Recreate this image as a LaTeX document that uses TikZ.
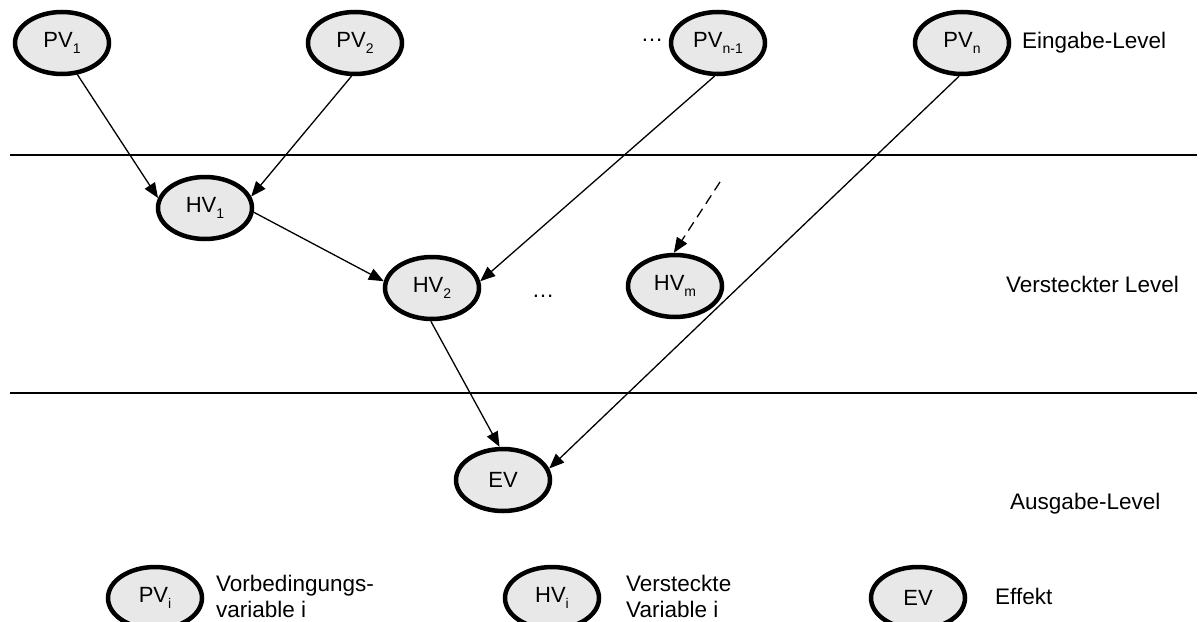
\documentclass[tikz,border=0pt]{standalone}
\usepackage{fontspec}
\setmainfont{Liberation Sans}
\usetikzlibrary{arrows.meta,shapes.geometric}
\definecolor{nodefill}{gray}{0.91}
\newcommand{\lowsub}[1]{\raisebox{-0.25em}{\fontsize{14}{14}\selectfont #1}}
\tikzset{
  var/.style={ellipse, draw=black, line width=4.5pt, fill=nodefill, minimum width=94pt, minimum height=62pt, inner sep=0pt, font=\fontsize{22}{26}\selectfont},
  lbl/.style={anchor=west, inner sep=0pt, font=\fontsize{22.5}{26}\selectfont, align=left},
  conn/.style={line width=1.3pt, -{Triangle[length=15pt,width=12pt]}},
  levelline/.style={line width=1.3pt}
}
\begin{document}
\begin{tikzpicture}[x=1pt,y=-1pt]
\useasboundingbox (0,0) rectangle (1201,621);
% level lines
\coordinate (l1a) at (10,155); \coordinate (l1b) at (1197,155);
\coordinate (l2a) at (10,393); \coordinate (l2b) at (1197,393);
\draw[levelline] (l1a) -- (l1b);
\draw[levelline] (l2a) -- (l2b);
% input level
\node[var] (pv1) at (62,43) {PV\lowsub{1}};
\node[var] (pv2) at (355,43) {PV\lowsub{2}};
\node[lbl, anchor=center] (dots1) at (652,40) {…};
\node[var] (pvn1) at (718,43) {PV\lowsub{n-1}};
\node[var] (pvn) at (962,43) {PV\lowsub{n}};
\node[lbl] (inlvl) at (1022,43) {Eingabe-Level};
% hidden level
\node[var] (hv1) at (205,208) {HV\lowsub{1}};
\node[var] (hv2) at (432,288) {HV\lowsub{2}};
\node[lbl, anchor=center] (dots2) at (543,296) {…};
\node[var] (hvm) at (675,286) {HV\lowsub{m}};
\node[lbl] (hidlvl) at (1006,284) {Versteckter Level};
% output level
\node[var] (ev) at (503,480) {EV};
\node[lbl] (outlvl) at (1010,504) {Ausgabe-Level};
% legend
\node[var] (lpv) at (155,598) {PV\lowsub{i}};
\node[lbl] (lpvt) at (216,596) {Vorbedingungs-\\variable i};
\node[var] (lhv) at (552,598) {HV\lowsub{i}};
\node[lbl] (lhvt) at (626,596) {Versteckte\\Variable i};
\node[var] (lev) at (918,598) {EV};
\node[lbl] (levt) at (995,596) {Effekt};
% connectors
\draw[conn] (pv1.296) -- (hv1.168);
\draw[conn] (pv2.264) -- (hv1.14);
\draw[conn] (hv1.355) -- (hv2.172);
\draw[conn] (pvn1.264) -- (hv2.8);
\draw[conn] (hv2.268) -- (ev.96);
\draw[conn] (pvn.265) -- (ev.14);
\coordinate (dstart) at (720,182);
\draw[conn, dashed, dash pattern=on 10pt off 6pt] (dstart) -- (hvm.92);
\end{tikzpicture}
\end{document}
